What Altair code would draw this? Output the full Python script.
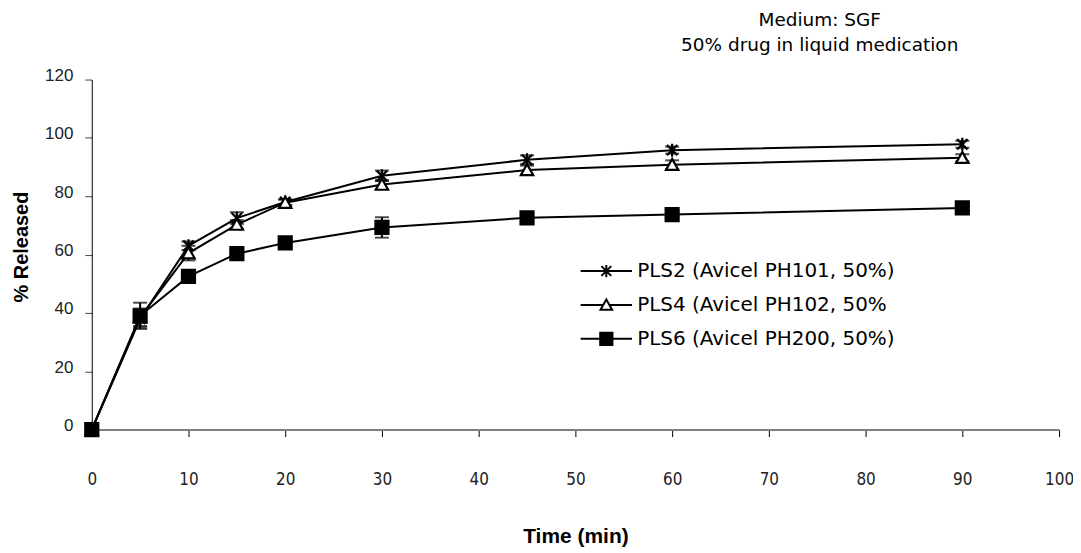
import altair as alt
import pandas as pd

# ---------------- data ----------------
times = [0, 5, 10, 15, 20, 30, 45, 60, 90]
series_names = ["PLS2 (Avicel PH101, 50%)", "PLS4 (Avicel PH102, 50%", "PLS6 (Avicel PH200, 50%)"]
pls2 = [0, 38, 63, 72.5, 78, 87, 92.5, 95.8, 97.8]
pls4 = [0, 38.5, 60.5, 70.3, 77.8, 84, 89, 90.8, 93.2]
pls6 = [0, 39, 52.5, 60.3, 64, 69.3, 72.6, 73.7, 76]
pls2_sd = [0, 3, 1.5, 2, 1, 1.8, 1.5, 1.2, 1.2]
pls4_sd = [0, 3, 2.5, 1.5, 1, 1.5, 1.5, 1.5, 1.2]
pls6_sd = [0, 4.5, 1, 1.5, 1, 3.5, 1, 1, 1]
x_ticks = [0, 10, 20, 30, 40, 50, 60, 70, 80, 90, 100]
y_ticks = [0, 20, 40, 60, 80, 100, 120]
title_lines = ["Medium: SGF", "50% drug in liquid medication"]

rows = []
for name, vals, sds in zip(series_names, [pls2, pls4, pls6], [pls2_sd, pls4_sd, pls6_sd]):
    for t, v, s in zip(times, vals, sds):
        rows.append({"series": name, "time": t, "value": v, "lo": v - s, "hi": v + s})
df = pd.DataFrame(rows)

# ---------------- marker shapes ----------------
ast = "M0,-1V1M-0.8,-0.8L0.8,0.8M-0.8,0.8L0.8,-0.8"
tri = "M0,-0.9L0.95,0.8H-0.95Z"
sq = "M-1,-1H1V1H-1Z"
plot_shapes = [ast, tri, sq]
legend_shapes = [ast + "M-4.2,0H4.2", tri + "M-4.2,0H-0.5M0.5,0H4.2", sq + "M-4.2,0H-1M1,0H4.2"]
fills = ["black", "white", "black"]
strokes = ["black", "black", "black"]

COND = "Liberation Sans Narrow, Arial Narrow, DejaVu Sans Condensed, sans-serif"

x_axis = alt.Axis(values=x_ticks, title="Time (min)", titleFont="Liberation Sans", titleFontSize=21,
                  titleFontWeight="bold", titleColor="black", titleY=107, titleBaseline="middle",
                  labelFont=COND, labelFontSize=17, labelColor="#222", labelPadding=35,
                  labelFlush=False, labelOverlap=False,
                  domainColor="#808080", domainWidth=2, tickColor="black", tickSize=7,
                  tickWidth=1, grid=False)
y_axis = alt.Axis(values=y_ticks, title="% Released", titleX=-70, titleY=167.5, titleAngle=-90,
                  titleBaseline="middle", titleAlign="center", titleFont="Liberation Sans",
                  titleFontSize=20, titleFontWeight="bold", titleColor="black",
                  labelFont="Liberation Sans", labelFontSize=17, labelColor="#222",
                  labelPadding=12, labelOffset=-4,
                  domainColor="black", domainWidth=1, tickColor="#444", tickSize=7,
                  tickWidth=1, grid=False)

xs = alt.Scale(domain=[0, 100], nice=False, zero=False)
ys = alt.Scale(domain=[0, 120], nice=False)

X = alt.X("time:Q", scale=xs, axis=x_axis)

base = alt.Chart(df)

err = base.transform_filter("datum.time > 0").mark_errorbar(
    ticks=True, size=14, thickness=2, color="black"
).encode(x=X, y=alt.Y("lo:Q", scale=ys, axis=y_axis), y2="hi:Q")

line = base.mark_line(color="black", strokeWidth=2).encode(
    x=X, y=alt.Y("value:Q", scale=ys, axis=y_axis), detail="series:N"
)

pts = base.mark_point(filled=True, stroke="black", strokeWidth=2.2, size=170, opacity=1).encode(
    x=X,
    y=alt.Y("value:Q", scale=ys, axis=y_axis),
    shape=alt.Shape("series:N", scale=alt.Scale(domain=series_names, range=plot_shapes), legend=None),
    fill=alt.Fill("series:N", scale=alt.Scale(domain=series_names, range=fills), legend=None),
)

leg_params = dict(
    title=None, orient="none", legendX=476, legendY=182, padding=0,
    labelFont="DejaVu Sans", labelFontSize=20, labelColor="black",
    labelOffset=21, symbolOffset=30, symbolSize=150, symbolStrokeColor="black",
    symbolStrokeWidth=2, rowPadding=13, labelLimit=400, symbolOpacity=1,
)

leg = base.transform_filter("datum.time < 0").mark_point(
    filled=True, strokeWidth=2, opacity=1
).encode(
    x=X,
    y=alt.Y("value:Q", scale=ys, axis=y_axis),
    shape=alt.Shape("series:N", scale=alt.Scale(domain=series_names, range=legend_shapes),
                    legend=alt.Legend(**leg_params)),
    fill=alt.Fill("series:N", scale=alt.Scale(domain=series_names, range=fills),
                  legend=alt.Legend(**leg_params)),
    stroke=alt.Stroke("series:N", scale=alt.Scale(domain=series_names, range=strokes),
                      legend=alt.Legend(**leg_params)),
)

chart = alt.layer(err, line, pts, leg).resolve_scale(
    shape="independent", fill="independent", stroke="independent"
).properties(
    width=970, height=351,
    padding={"left": 84, "top": 71, "right": 14, "bottom": 118},
    autosize=alt.AutoSizeParams(type="none"),
    title=alt.TitleParams(text=title_lines, anchor="middle", dx=245, font="DejaVu Sans",
                          fontSize=18.5, fontWeight="normal", color="black", lineHeight=25,
                          offset=12, frame="group"),
).configure_view(stroke=None)

chart.save("out.html", embed_options={"renderer": "svg", "actions": False})
